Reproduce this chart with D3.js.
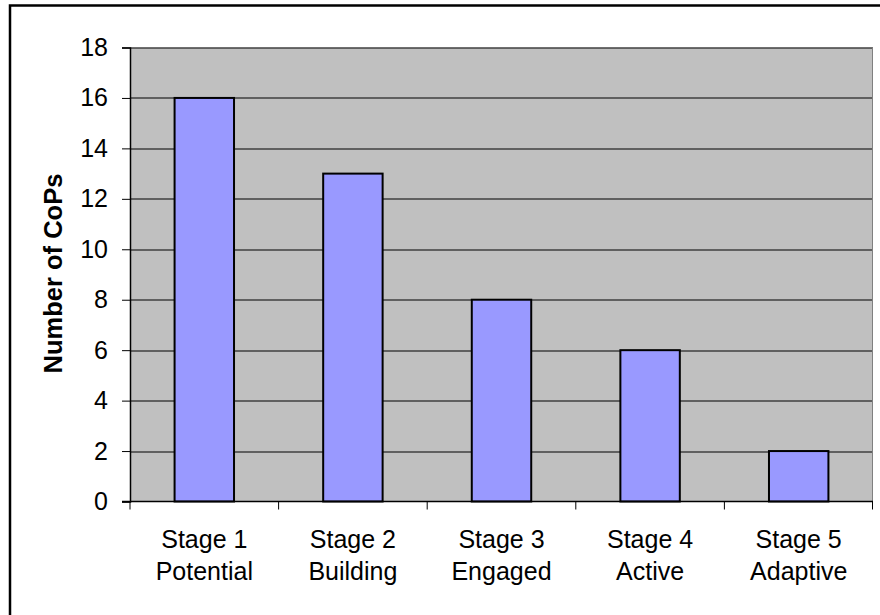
<!DOCTYPE html>
<html>
<head>
<meta charset="utf-8">
<script src="https://cdn.jsdelivr.net/npm/d3@7"></script>
<style>
  body { margin: 0; background: #fff; }
  svg { display: block; font-family: Arial, "Liberation Sans", sans-serif; }
</style>
</head>
<body>
<div id="chart"></div>
<script>
var stages = ["Stage 1", "Stage 2", "Stage 3", "Stage 4", "Stage 5"];
var stageNames = ["Potential", "Building", "Engaged", "Active", "Adaptive"];
var counts = [16, 13, 8, 6, 2];
var yTicks = [0, 2, 4, 6, 8, 10, 12, 14, 16, 18];

var W = 880, H = 615;
var margin = { top: 47.5, right: 7, bottom: 113.5, left: 130 },
    width = W - margin.left - margin.right,
    height = H - margin.top - margin.bottom;

var svg = d3.select("#chart").append("svg")
    .attr("width", W)
    .attr("height", H);

// outer chart border (right/bottom run off the picture)
svg.append("rect")
    .attr("x", 10).attr("y", 5.5)
    .attr("width", 900).attr("height", 700)
    .attr("fill", "none")
    .attr("stroke", "#000")
    .attr("stroke-width", 2.5);

var g = svg.append("g")
    .attr("transform", "translate(" + margin.left + "," + margin.top + ")");

var x = d3.scaleBand().domain(stages).range([0, width]).paddingInner(0.6).paddingOuter(0.3);
var xb = d3.scaleBand().domain(stages).range([0, width]);
var y = d3.scaleLinear().domain([0, 18]).range([height, 0]);

g.append("rect")
    .attr("width", width).attr("height", height)
    .attr("fill", "#c0c0c0");

// gridlines
g.selectAll(".grid")
    .data(yTicks.slice(1))
    .enter().append("line")
    .attr("x1", 0).attr("x2", width)
    .attr("y1", function(d) { return Math.round(y(d)) + 0.5; })
    .attr("y2", function(d) { return Math.round(y(d)) + 0.5; })
    .attr("stroke", "#000")
    .attr("stroke-width", 1);

// right edge of plot area
g.append("line")
    .attr("x1", width - 0.5).attr("x2", width - 0.5)
    .attr("y1", 0).attr("y2", height)
    .attr("stroke", "#808080");

// bars
g.selectAll(".bar")
    .data(counts)
    .enter().append("rect")
    .attr("x", function(d, i) { return x(stages[i]); })
    .attr("y", function(d) { return y(d); })
    .attr("width", x.bandwidth())
    .attr("height", function(d) { return height - y(d); })
    .attr("fill", "#9999ff")
    .attr("stroke", "#000")
    .attr("stroke-width", 2);

// y axis
var yAxis = g.append("g")
    .call(d3.axisLeft(y).tickValues(yTicks).tickSize(8).tickPadding(14));
yAxis.attr("font-size", null).attr("font-family", null);
yAxis.select(".domain").attr("stroke", "#000").attr("stroke-width", 1.5);
yAxis.selectAll("text").style("font-size", "25px").attr("fill", "#000");

// x axis
var xAxisG = g.append("g").attr("transform", "translate(0," + height + ")");
xAxisG.append("line")
    .attr("x1", -8).attr("x2", width)
    .attr("stroke", "#000").attr("stroke-width", 1.5);
xAxisG.selectAll(".xt")
    .data(stages.concat(["end"]))
    .enter().append("line")
    .attr("x1", function(d, i) { return i < stages.length ? xb(d) : width - 0.5; })
    .attr("x2", function(d, i) { return i < stages.length ? xb(d) : width - 0.5; })
    .attr("y1", 0).attr("y2", 8)
    .attr("stroke", "#000");

var lbl = xAxisG.selectAll(".xl")
    .data(stages)
    .enter().append("text")
    .attr("text-anchor", "middle")
    .attr("x", function(d) { return xb(d) + xb.bandwidth() / 2; })
    .style("font-size", "25px");
lbl.append("tspan").attr("x", function(d) { return xb(d) + xb.bandwidth() / 2; })
    .attr("y", 46).text(function(d) { return d; });
lbl.append("tspan").attr("x", function(d) { return xb(d) + xb.bandwidth() / 2; })
    .attr("y", 78.5).text(function(d, i) { return stageNames[i]; });

// y title
svg.append("text")
    .attr("transform", "translate(62," + (margin.top + height / 2 - 1) + ") rotate(-90)")
    .attr("text-anchor", "middle")
    .style("font-size", "25.5px")
    .style("font-weight", "bold")
    .text("Number of CoPs");
</script>
</body>
</html>
